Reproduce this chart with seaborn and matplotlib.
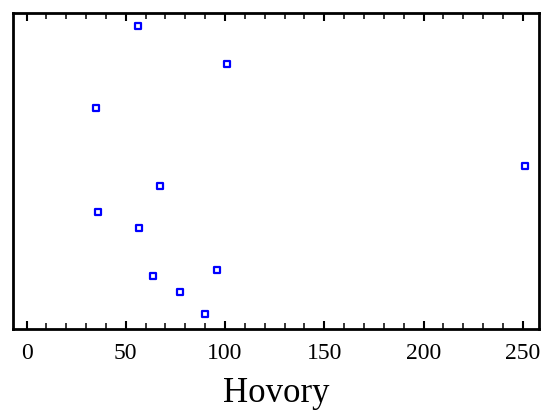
import matplotlib
matplotlib.use("Agg")
import matplotlib.pyplot as plt
import seaborn as sns
import pandas as pd
from matplotlib.ticker import MultipleLocator

# data (y is only a vertical jitter position)
hovory = [56, 101, 35, 67, 251, 36, 56.5, 63.5, 96, 77.5, 90]
jitter = [0.958, 0.837, 0.698, 0.451, 0.515, 0.369, 0.318, 0.166, 0.185, 0.115, 0.046]
x_ticks = [0, 50, 100, 150, 200, 250]

df = pd.DataFrame({"Hovory": hovory, "y": jitter})

sns.set_style("white")
plt.rcParams["font.family"] = ["Liberation Serif", "DejaVu Serif"]

fig = plt.figure(figsize=(5.44, 4.12), dpi=100)
ax = fig.add_axes([0.0239, 0.2022, 0.9663, 0.7662])

sns.scatterplot(data=df, x="Hovory", y="y", marker="s", s=20,
                facecolor="white", edgecolor="#0000ff", linewidth=1.6, ax=ax)

ax.set_xlim(-6.8, 258)
ax.set_ylim(0, 1)
ax.set_xticks(x_ticks)
ax.xaxis.set_minor_locator(MultipleLocator(10))
ax.set_yticks([])
ax.set_ylabel("")
ax.set_xlabel("Hovory", fontsize=25, labelpad=10, color="black")

ax.tick_params(axis="x", which="major", direction="in", length=6, width=1.5,
               top=True, bottom=True, labelsize=17, pad=10, colors="black")
ax.tick_params(axis="x", which="minor", direction="in", length=4, width=1.3,
               top=True, bottom=True)
for sp in ax.spines.values():
    sp.set_visible(True)
    sp.set_color("black")
    sp.set_linewidth(2)

fig.savefig("out.png", dpi=100)
